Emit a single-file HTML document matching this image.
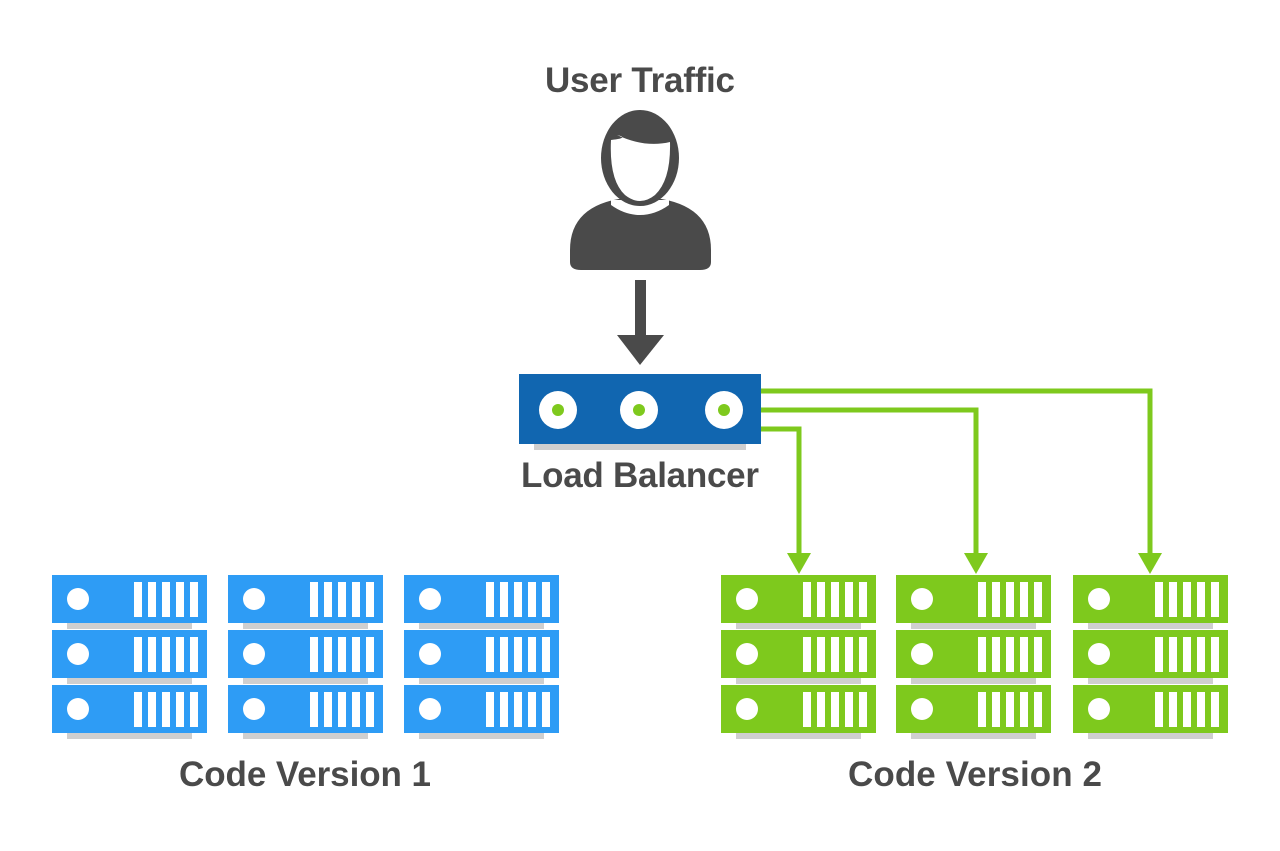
<!DOCTYPE html>
<html><head><style>
html,body{margin:0;padding:0;background:#fff;width:1280px;height:851px;overflow:hidden}
text{font-family:"Liberation Sans",sans-serif;font-weight:bold;fill:#4a4a4a}
</style></head><body>
<svg width="1280" height="851" viewBox="0 0 1280 851" xmlns="http://www.w3.org/2000/svg">
<defs>
<g id="unit">
  <rect x="15" y="48" width="125" height="6" fill="#cfcfcf"/>
  <rect x="0" y="0" width="155" height="48"/>
  <circle cx="26" cy="24" r="11" fill="#fff"/>
  <rect x="82" y="7" width="8" height="35" fill="#fff"/>
  <rect x="96" y="7" width="8" height="35" fill="#fff"/>
  <rect x="110" y="7" width="8" height="35" fill="#fff"/>
  <rect x="124" y="7" width="8" height="35" fill="#fff"/>
  <rect x="138" y="7" width="8" height="35" fill="#fff"/>
</g>
<g id="rack">
  <use href="#unit" y="0"/>
  <use href="#unit" y="55"/>
  <use href="#unit" y="110"/>
</g>
</defs>
<text x="640" y="92" font-size="35" text-anchor="middle" textLength="190">User Traffic</text>
<!-- person -->
<path d="M570 250 Q570 205 625 198 L655 198 Q711 205 711 250 L711 262 Q711 270 700 270 L581 270 Q570 270 570 262 Z" fill="#4a4a4a"/>
<path d="M611 205 Q625 215 640 215 Q655 215 669 205 L669 200 L611 200Z" fill="#fff"/>
<ellipse cx="640" cy="158" rx="39" ry="48" fill="#4a4a4a"/>
<path d="M611 140 Q630 138 617 135 Q645 148 670 142 Q671 180 655 195 Q640 207 625 195 Q609 180 611 140Z" fill="#fff"/>
<!-- arrow -->
<rect x="635" y="280" width="11" height="58" fill="#4a4a4a"/>
<polygon points="617,335 664,335 640,365" fill="#4a4a4a"/>
<!-- LB -->
<rect x="534" y="444" width="212" height="6" fill="#cfcfcf"/>
<rect x="519" y="374" width="242" height="70" fill="#1166b0"/>
<g fill="#fff"><circle cx="558" cy="410" r="19"/><circle cx="639" cy="410" r="19"/><circle cx="724" cy="410" r="19"/></g>
<g fill="#7ec91d"><circle cx="558" cy="410" r="6"/><circle cx="639" cy="410" r="6"/><circle cx="724" cy="410" r="6"/></g>
<text x="640" y="487" font-size="35" text-anchor="middle" textLength="238">Load Balancer</text>
<!-- green connectors -->
<g fill="none" stroke="#7ec91d" stroke-width="5">
<polyline points="761,391 1150,391 1150,556"/>
<polyline points="761,410 976,410 976,556"/>
<polyline points="761,429 799,429 799,556"/>
</g>
<g fill="#7ec91d">
<polygon points="1138,553 1162,553 1150,574"/>
<polygon points="964,553 988,553 976,574"/>
<polygon points="787,553 811,553 799,574"/>
</g>
<!-- racks -->
<g fill="#2e9cf5">
<use href="#rack" x="52" y="575"/>
<use href="#rack" x="228" y="575"/>
<use href="#rack" x="404" y="575"/>
</g>
<g fill="#7ec91d">
<use href="#rack" x="721" y="575"/>
<use href="#rack" x="896" y="575"/>
<use href="#rack" x="1073" y="575"/>
</g>
<text x="305" y="786" font-size="35" text-anchor="middle" textLength="252">Code Version 1</text>
<text x="975" y="786" font-size="35" text-anchor="middle" textLength="254">Code Version 2</text>
</svg>
</body></html>
